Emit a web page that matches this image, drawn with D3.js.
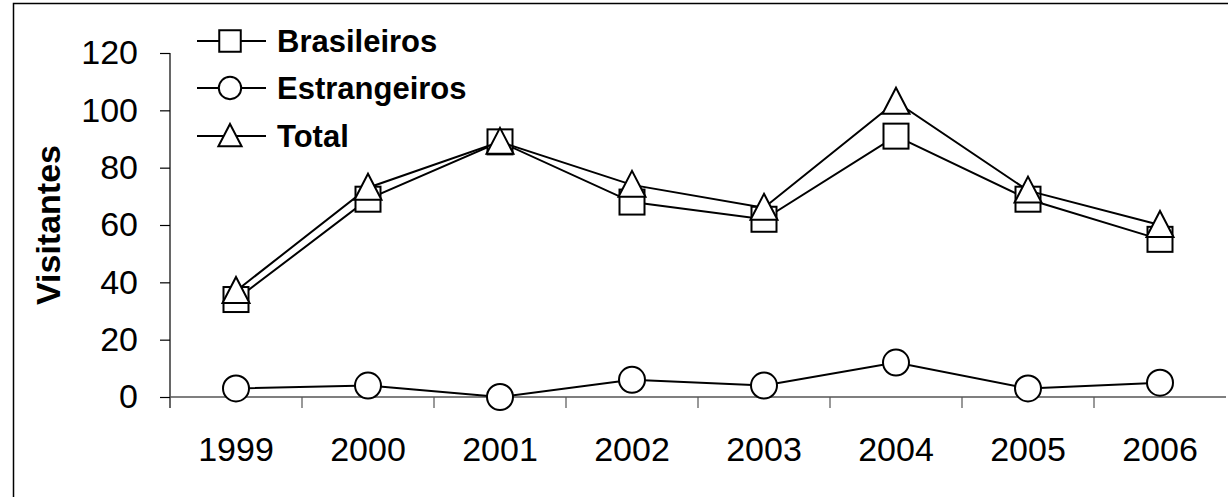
<!DOCTYPE html>
<html>
<head>
<meta charset="utf-8">
<script src="https://cdn.jsdelivr.net/npm/d3@7"></script>
<style>
  body { margin: 0; background: #fff; overflow: hidden; }
  svg { display: block; font-family: "Liberation Sans", Arial, sans-serif; }
</style>
</head>
<body>
<div id="chart"></div>
<script>
// data
var years = ["1999", "2000", "2001", "2002", "2003", "2004", "2005", "2006"];
var brasileiros = [34, 69, 89, 68, 62, 91, 69, 55];
var estrangeiros = [3, 4, 0, 6, 4, 12, 3, 5];
var total = [37, 73, 89, 74, 66, 103, 72, 60];
var yTicks = [0, 20, 40, 60, 80, 100, 120];
var seriesNames = ["Brasileiros", "Estrangeiros", "Total"];

var W = 1228, H = 497;
var margin = { top: 53, right: 2, bottom: 100, left: 170 };

var svg = d3.select("#chart").append("svg")
  .attr("width", W)
  .attr("height", H);

// outer frame (only left and top edges are inside the picture)
svg.append("rect")
  .attr("x", 13.5).attr("y", 3.5)
  .attr("width", 1400).attr("height", 700)
  .attr("fill", "none")
  .attr("stroke", "#000")
  .attr("stroke-width", 1.5);

var x = d3.scaleBand().domain(years).range([margin.left, W - margin.right]);
var y = d3.scaleLinear().domain([0, 120]).range([H - margin.bottom, margin.top]);

// y axis
var yAxis = svg.append("g")
  .attr("transform", "translate(" + margin.left + ",0)")
  .call(d3.axisLeft(y).tickValues(yTicks).tickSize(10).tickPadding(22));
yAxis.select(".domain").remove();
yAxis.selectAll("line").attr("stroke", "#000").attr("stroke-width", 1.2);
yAxis.selectAll("text")
  .attr("font-size", 34)
  .attr("font-family", "'Liberation Sans', Arial, sans-serif")
  .attr("fill", "#000");
yAxis.append("line")
  .attr("x1", 0).attr("x2", 0)
  .attr("y1", y(120)).attr("y2", y(0) + 11)
  .attr("stroke", "#000").attr("stroke-width", 1.2);

// x axis
var xAxis = svg.append("g")
  .attr("transform", "translate(0," + y(0) + ")")
  .call(d3.axisBottom(x).tickSize(0).tickPadding(40));
xAxis.select(".domain").remove();
xAxis.selectAll("text")
  .attr("font-size", 34)
  .attr("font-family", "'Liberation Sans', Arial, sans-serif")
  .attr("fill", "#000");
xAxis.append("line")
  .attr("x1", x.range()[0]).attr("x2", x.range()[1])
  .attr("y1", 0).attr("y2", 0)
  .attr("stroke", "#555").attr("stroke-width", 1.5);
xAxis.selectAll(".xtick")
  .data(years.slice(1))
  .enter().append("line")
  .attr("class", "xtick")
  .attr("x1", function (d) { return x(d); })
  .attr("x2", function (d) { return x(d); })
  .attr("y1", 0).attr("y2", 11)
  .attr("stroke", "#555").attr("stroke-width", 1.2);

// axis title
svg.append("text")
  .attr("transform", "translate(60," + ((y(0) + y(120)) / 2) + ") rotate(-90)")
  .attr("text-anchor", "middle")
  .attr("font-size", 34)
  .attr("font-weight", "bold")
  .text("Visitantes");

// marker shapes
function drawMarker(g, type, s) {
  if (type === "square") {
    g.append("rect")
      .attr("x", -12.5 * s).attr("y", -12.5 * s)
      .attr("width", 25 * s).attr("height", 25 * s);
  } else if (type === "circle") {
    g.append("circle").attr("r", 13 * s);
  } else {
    g.append("path")
      .attr("d", "M0," + (-14 * s) + "L" + (13.5 * s) + "," + (12 * s) + "L" + (-13.5 * s) + "," + (12 * s) + "Z");
  }
  g.selectAll("*")
    .attr("fill", "#fff")
    .attr("stroke", "#000")
    .attr("stroke-width", 2);
}

var seriesData = [brasileiros, estrangeiros, total];
var shapes = ["square", "circle", "triangle"];

var line = d3.line()
  .x(function (d, i) { return x(years[i]) + x.bandwidth() / 2; })
  .y(function (d) { return y(d); });

seriesData.forEach(function (vals, k) {
  var g = svg.append("g");
  g.append("path")
    .datum(vals)
    .attr("fill", "none")
    .attr("stroke", "#000")
    .attr("stroke-width", 2)
    .attr("d", line);
  vals.forEach(function (v, i) {
    var m = g.append("g")
      .attr("transform", "translate(" + (x(years[i]) + x.bandwidth() / 2) + "," + y(v) + ")");
    drawMarker(m, shapes[k], 1);
  });
});

// legend
var legendRows = [41, 88, 136];
seriesNames.forEach(function (name, k) {
  var g = svg.append("g").attr("transform", "translate(0," + legendRows[k] + ")");
  g.append("line")
    .attr("x1", 197).attr("x2", 266)
    .attr("y1", 0).attr("y2", 0)
    .attr("stroke", "#000").attr("stroke-width", 2);
  var m = g.append("g").attr("transform", "translate(230,0)");
  drawMarker(m, shapes[k], 0.86);
  g.append("text")
    .attr("x", 277)
    .attr("y", 11)
    .attr("font-size", 31)
    .attr("font-weight", "bold")
    .text(name);
});
</script>
</body>
</html>
